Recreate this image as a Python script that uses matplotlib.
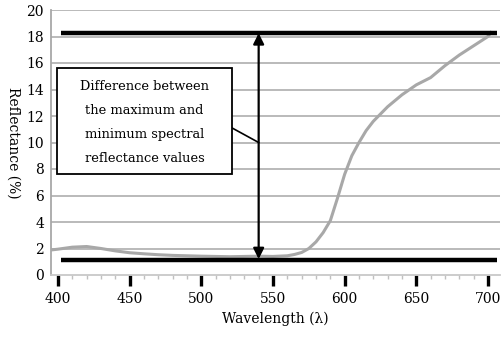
import matplotlib
matplotlib.use("Agg")
import matplotlib.pyplot as plt
from matplotlib.patches import Rectangle

wavelength = [396, 400, 410, 420, 430, 440, 450, 460, 470, 480, 490, 500, 510, 520,
              530, 540, 550, 560, 565, 570, 575, 580, 585, 590, 595, 600, 605, 610,
              615, 620, 630, 640, 650, 660, 670, 680, 690, 700, 702]
reflectance = [1.9, 1.95, 2.1, 2.15, 2.0, 1.82, 1.68, 1.6, 1.53, 1.48, 1.45, 1.42,
               1.4, 1.38, 1.4, 1.42, 1.4, 1.45, 1.55, 1.7, 2.0, 2.5, 3.2, 4.1, 5.8,
               7.6, 9.0, 10.0, 10.9, 11.6, 12.7, 13.6, 14.35, 14.9, 15.8, 16.6, 17.3,
               18.0, 18.3]
max_val = 18.3
min_val = 1.15
arrow_x = 540
xticks = [400, 450, 500, 550, 600, 650, 700]
yticks = list(range(0, 21, 2))
box_lines = ["Difference between", "the maximum and",
             "minimum spectral", "reflectance values"]

font = "DejaVu Serif"
plt.rcParams['font.family'] = [font]

fig = plt.figure(figsize=(5.01, 3.39), dpi=100)
ax = fig.add_axes([51/501, 1-275/339, 449/501, 265/339])

ax.set_xlim(395.1, 708.4)
ax.set_ylim(0, 20)

for y in yticks:
    if y == 0:
        continue
    ax.axhline(y, color="#b4b4b4", lw=1.3, zorder=1)

ax.plot(wavelength, reflectance, color="#a8a8a8", lw=2.2, zorder=2)

ax.plot([402, 706], [max_val, max_val], color="black", lw=3.2, solid_capstyle="butt", zorder=3)
ax.plot([402, 706], [min_val, min_val], color="black", lw=3.2, solid_capstyle="butt", zorder=3)

ax.annotate("", xy=(arrow_x, max_val - 0.05), xytext=(arrow_x, min_val + 0.05),
            arrowprops=dict(arrowstyle="<|-|>", color="black", lw=1.6,
                            mutation_scale=16, shrinkA=0, shrinkB=0), zorder=4)

# text box
bx0, bx1, by0, by1 = 399.3, 521.4, 7.6, 15.6
ax.add_patch(Rectangle((bx0, by0), bx1 - bx0, by1 - by0, facecolor="white",
                       edgecolor="black", lw=1.3, zorder=5))
ax.plot([bx1, arrow_x], [11.1, 10.0], color="black", lw=1.2, zorder=4)
line_y = [14.19, 12.45, 10.64, 8.83]
for t, yy in zip(box_lines, line_y):
    ax.text((bx0 + bx1) / 2, yy, t, ha="center", va="center", fontsize=9.4,
            zorder=6)

ax.set_xticks(xticks)
ax.set_xticks(range(400, 710, 10), minor=True)
ax.set_yticks(yticks)
ax.tick_params(axis="x", which="major", length=8, width=2.4, color="black",
               labelsize=10, pad=4)
ax.tick_params(axis="x", which="minor", length=3, width=1, color="#c0c0c0")
ax.tick_params(axis="y", length=0, labelsize=10, pad=5)

for s in ["top", "right"]:
    ax.spines[s].set_visible(False)
ax.spines["left"].set_color("#a8a8a8")
ax.spines["left"].set_linewidth(1.3)
ax.spines["bottom"].set_color("#c8c8c8")
ax.spines["bottom"].set_linewidth(1.3)

ax.set_xlabel("Wavelength (λ)", fontsize=10, labelpad=4)
ax.set_ylabel("Reflectance (%)", fontsize=10, rotation=270, labelpad=-4)
ax.yaxis.set_label_coords(-0.1, 0.5)

fig.savefig("out.png", dpi=100)
